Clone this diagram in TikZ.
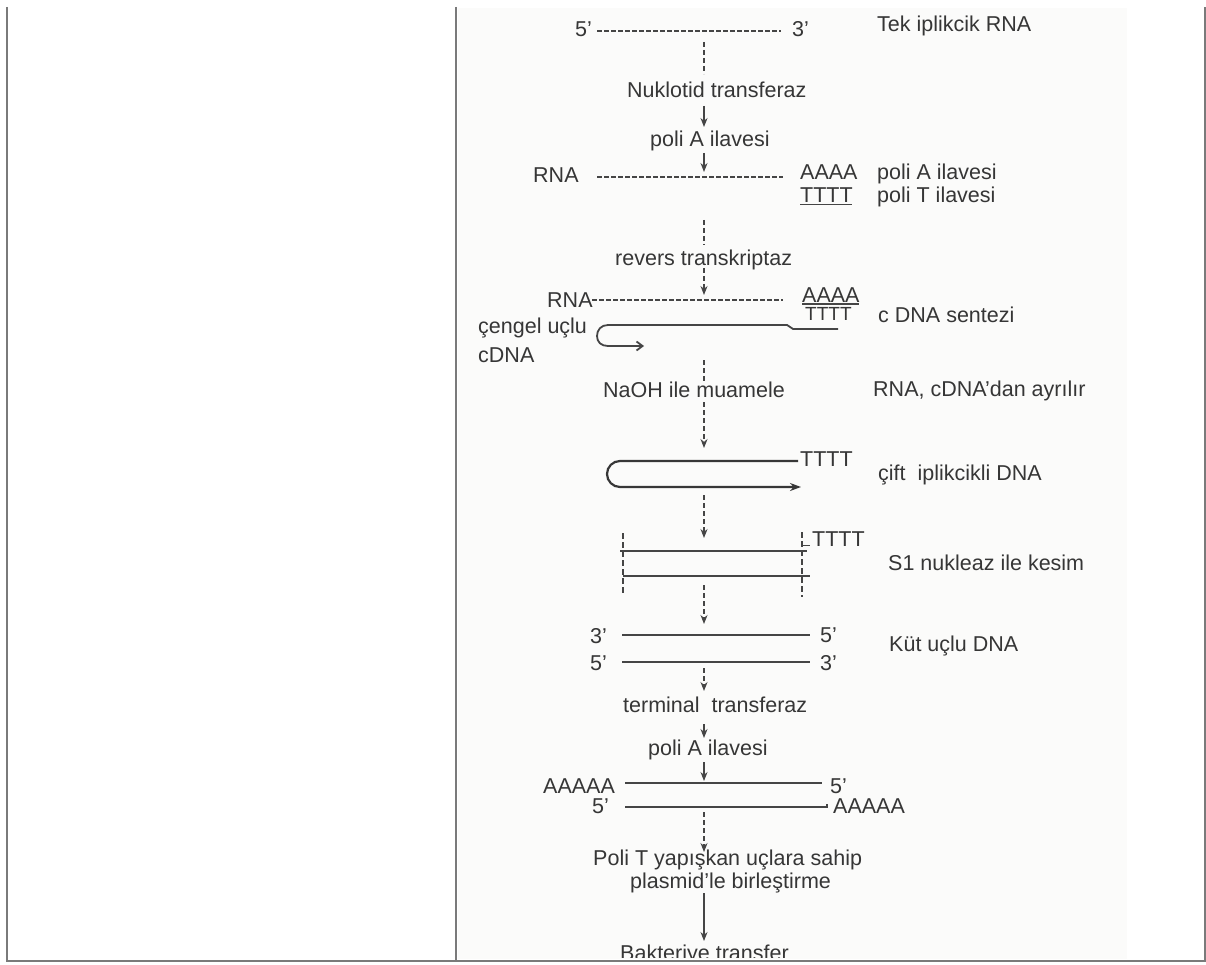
\documentclass[tikz,border=0pt]{standalone}
\usepackage{fontspec}
\setmainfont{Liberation Sans}
\usetikzlibrary{arrows.meta}
\definecolor{txtc}{HTML}{363636}
\definecolor{linec}{HTML}{454545}
\definecolor{framec}{HTML}{7A7A7A}
\definecolor{scanbg}{HTML}{FBFBFA}
\begin{document}
\begin{tikzpicture}[x=1pt,y=-1pt,
  txt/.style={font=\fontsize{21.5}{25}\selectfont, text=txtc, inner sep=0pt, anchor=base west},
  dashstrand/.style={draw=linec, line width=1.2pt, dash pattern=on 4.5pt off 2.5pt},
  strand/.style={draw=linec, line width=1.3pt},
  hairline/.style={draw=linec!80!black, line width=2.2pt},
  flow/.style={draw=linec, line width=1.2pt, dash pattern=on 5pt off 3pt},
  flowhead/.style={flow, -{Stealth[length=9pt,width=7pt]}},
  solidhead/.style={draw=linec, line width=1.2pt, -{Stealth[length=9pt,width=7pt]}},
  cutline/.style={draw=linec, line width=1.1pt, dash pattern=on 6pt off 3pt},
  framestyle/.style={draw=framec, line width=1.6pt}]
\useasboundingbox (0,0) rectangle (1206,965);
% frame and scanned background
\fill[scanbg] (458,8) rectangle (1127,959);
\coordinate (fTL) at (7,7);
\coordinate (fBL) at (7,961);
\coordinate (fTM) at (456,7);
\coordinate (fBM) at (456,961);
\coordinate (fTR) at (1205,7);
\coordinate (fBR) at (1205,961);
\draw[framestyle] (fTL) -- (fBL) -- (fBR) -- (fTR);
\draw[framestyle] (fTM) -- (fBM);

% step 1: single strand RNA
\node[txt] (p5a) at (575,37) {5'};
\coordinate (s1a) at (597,31);
\coordinate (s1b) at (781,31);
\draw[dashstrand] (s1a) -- (s1b);
\node[txt] (p3a) at (792,37) {3'};
\node[txt] (tek) at (877,32) {Tek iplikcik RNA};

\coordinate (c1a) at (704,42);
\coordinate (c1b) at (704,74);
\draw[flow] (c1a) -- (c1b);
\node[txt] (nuk) at (627,98) {Nuklotid transferaz};
\coordinate (c2a) at (704,106);
\coordinate (c2b) at (704,127);
\draw[solidhead] (c2a) -- (c2b);
\node[txt] (polA1) at (650,147) {poli A ilavesi};
\coordinate (c3a) at (704,153);
\coordinate (c3b) at (704,172);
\draw[solidhead] (c3a) -- (c3b);

% step 2: poly A
\node[txt] (rna1) at (533,183) {RNA};
\coordinate (s2a) at (597,177);
\coordinate (s2b) at (783,177);
\draw[dashstrand] (s2a) -- (s2b);
\node[txt] (aaaa1) at (800,180) {AAAA};
\node[txt] (polA2) at (877,180) {poli A ilavesi};
\node[txt] (tttt1) at (800,203) {TTTT};
\draw[strand, line width=1pt] (tttt1.base west) ++(0,2) -- ++(52,0);
\node[txt] (polT) at (877,203) {poli T ilavesi};

\coordinate (c4a) at (704,220);
\coordinate (c4b) at (704,245);
\draw[flow] (c4a) -- (c4b);
\node[txt] (rev) at (615,266) {revers transkriptaz};
\coordinate (c5a) at (704,268);
\coordinate (c5b) at (704,295);
\draw[flowhead] (c5a) -- (c5b);

% step 3: cDNA synthesis
\node[txt] (rna2) at (547,307) {RNA};
\coordinate (s3a) at (592,300);
\coordinate (s3b) at (783,300);
\draw[dashstrand] (s3a) -- (s3b);
\node[txt] (aaaa2) at (802,302) {AAAA};
\draw[strand, line width=1pt] (aaaa2.base west) ++(0,2) -- ++(57,0);
\node[txt, font=\fontsize{19}{22}\selectfont] (tttt2) at (805,320) {TTTT};
\draw[strand, line width=1.8pt, -{Straight Barb[length=6pt,width=9pt]}]
  (838,329) -- (793,329) -- (787,325) -- (608,325)
  .. controls (601,325) and (597,330) .. (597,336)
  .. controls (597,342) and (601,346) .. (608,346) -- (644,346);
\node[txt] (cds) at (878,322) {c DNA sentezi};
\node[txt] (cen) at (478,333) {çengel uçlu};
\node[txt] (cdna) at (478,362) {cDNA};

\coordinate (c6a) at (704,360);
\coordinate (c6b) at (704,381);
\draw[flow] (c6a) -- (c6b);
\node[txt] (naoh) at (603,397) {NaOH ile muamele};
\node[txt] (ayr) at (873,396) {RNA, cDNA'dan ayrılır};
\coordinate (c7a) at (704,402);
\coordinate (c7b) at (704,448);
\draw[flowhead] (c7a) -- (c7b);

% step 4: double-stranded hairpin
\draw[hairline, -{Stealth[length=11pt,width=8pt]}]
  (798,461) -- (620,461)
  .. controls (612.8,461) and (607,466.8) .. (607,474)
  .. controls (607,481.2) and (612.8,487) .. (620,487) -- (801,487);
\node[txt] (tttt3) at (800,466) {TTTT};
\node[txt] (cift) at (878,480) {çift\ \ iplikcikli DNA};

\coordinate (c8a) at (704,495);
\coordinate (c8b) at (704,538);
\draw[flowhead] (c8a) -- (c8b);

% step 5: S1 nuclease
\draw[strand] (620,551) -- (807,551);
\draw[strand] (623,576) -- (810,576);
\coordinate (cutLa) at (623,533);
\coordinate (cutLb) at (623,593);
\draw[cutline] (cutLa) -- (cutLb);
\coordinate (cutRa) at (802,532);
\coordinate (cutRb) at (802,597);
\draw[cutline] (cutRa) -- (cutRb);
\draw[strand, line width=1pt] (802,545) -- (810,545);
\node[txt] (tttt4) at (812,546) {TTTT};
\node[txt] (s1) at (888,570) {S1 nukleaz ile kesim};

\coordinate (c9a) at (704,585);
\coordinate (c9b) at (704,624);
\draw[flowhead] (c9a) -- (c9b);

% step 6: blunt-ended DNA
\node[txt] (k3a) at (590,643) {3'};
\draw[strand] (622,635) -- (810,635);
\node[txt] (k5a) at (820,642) {5'};
\node[txt] (k5b) at (590,670) {5'};
\draw[strand] (622,662) -- (810,662);
\node[txt] (k3b) at (820,670) {3'};
\node[txt] (kut) at (889,651) {Küt uçlu DNA};

\coordinate (c10a) at (704,668);
\coordinate (c10b) at (704,691);
\draw[flowhead] (c10a) -- (c10b);
\node[txt] (term) at (623,712) {terminal\ \ transferaz};
\coordinate (c11a) at (704,724);
\coordinate (c11b) at (704,738);
\draw[solidhead] (c11a) -- (c11b);
\node[txt] (polA3) at (648,755) {poli A ilavesi};
\coordinate (c12a) at (704,762);
\coordinate (c12b) at (704,781);
\draw[solidhead] (c12a) -- (c12b);

% step 7: poly A tails
\node[txt] (a5a) at (543,793) {AAAAA};
\draw[strand] (625,783) -- (822,783);
\node[txt] (p5b) at (830,793) {5'};
\node[txt] (p5c) at (592,813) {5'};
\draw[strand] (625,807) -- (827,807) -- (827,804);
\node[txt] (a5b) at (833,813) {AAAAA};

\coordinate (c13a) at (704,812);
\coordinate (c13b) at (704,852);
\draw[flowhead] (c13a) -- (c13b);
\node[txt] (polT2) at (593,865) {Poli T yapışkan uçlara sahip};
\node[txt] (plas) at (630,888) {plasmid'le birleştirme};
\coordinate (c14a) at (704,893);
\coordinate (c14b) at (704,941);
\draw[solidhead] (c14a) -- (c14b);
\begin{scope}
  \clip (458,8) rectangle (1127,957);
  \node[txt] (bak) at (620,960) {Bakteriye transfer};
\end{scope}
\end{tikzpicture}
\end{document}
